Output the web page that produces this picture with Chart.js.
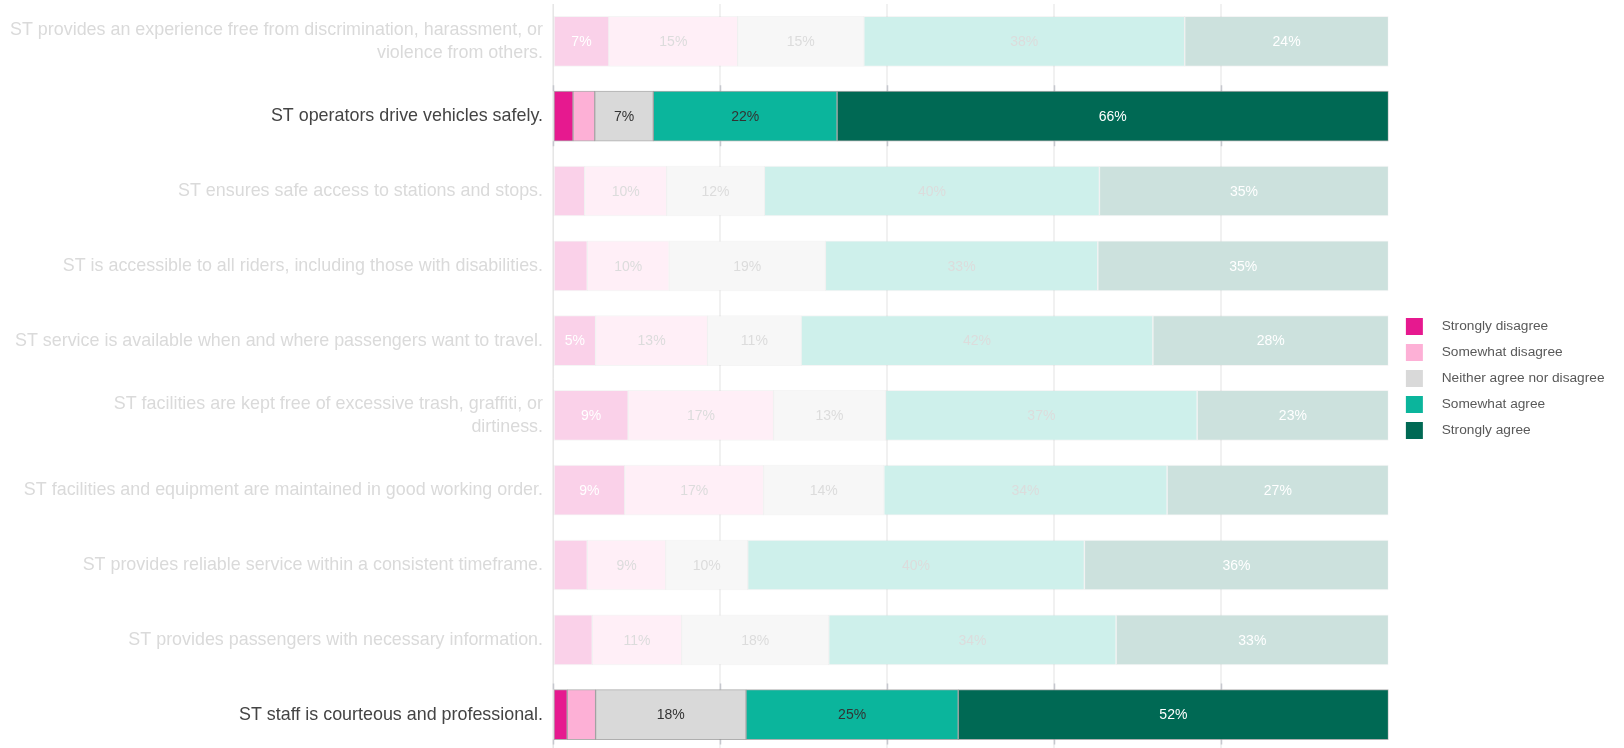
<!DOCTYPE html>
<html>
<head>
<meta charset="utf-8">
<script src="https://cdn.jsdelivr.net/npm/chart.js@4.4.1/dist/chart.umd.min.js"></script>
<style>
  html,body{margin:0;padding:0;background:#fff;overflow:hidden}
</style>
</head>
<body>
<canvas id="grafico" width="1624" height="752"></canvas>
<script>
const statements = [
  ['ST provides an experience free from discrimination, harassment, or', 'violence from others.'],
  'ST operators drive vehicles safely.',
  'ST ensures safe access to stations and stops.',
  'ST is accessible to all riders, including those with disabilities.',
  'ST service is available when and where passengers want to travel.',
  ['ST facilities are kept free of excessive trash, graffiti, or', 'dirtiness.'],
  'ST facilities and equipment are maintained in good working order.',
  'ST provides reliable service within a consistent timeframe.',
  'ST provides passengers with necessary information.',
  'ST staff is courteous and professional.'
];
const answers = ['Strongly disagree', 'Somewhat disagree', 'Neither agree nor disagree', 'Somewhat agree', 'Strongly agree'];

// share of responses (%) per statement
const stronglyDisagree = [6.7, 2.4, 3.8, 4.1, 5.1, 9.0, 8.6, 4.1, 4.7, 1.7];
const somewhatDisagree = [15.4, 2.6, 9.8, 9.8, 13.4, 17.4, 16.6, 9.4, 10.7, 3.4];
const neither          = [15.1, 7.0, 11.7, 18.7, 11.2, 13.4, 14.4, 9.8, 17.6, 18.0];
const somewhatAgree    = [38.4, 22.0, 40.1, 32.6, 42.1, 37.3, 33.9, 40.3, 34.4, 25.4];
const stronglyAgree    = [24.4, 66.0, 34.6, 34.8, 28.2, 22.9, 26.5, 36.4, 32.6, 51.5];
const xTicks = [0, 20, 40, 60, 80, 100];

// rows shown at full strength, the rest are greyed out
const highlighted = [1, 9];

const colors = ['#e6198f', '#fdb0d6', '#d9d9d9', '#0bb59c', '#006954'];
const textColors = ['#ffffff', '#333333', '#333333', '#333333', '#ffffff'];
const textColorsFaded = ['#ffffff', '#dcdcdc', '#dcdcdc', '#dcdcdc', '#ffffff'];
const font = '"Liberation Sans", Arial, sans-serif';

const isOn = i => highlighted.includes(i);
// washed-out colour, mixed with white so it stays opaque
function fade(hex, a){
  const n = parseInt(hex.slice(1), 16);
  const mix = v => Math.round(255 - a * (255 - v));
  return `rgb(${mix(n >> 16)},${mix((n >> 8) & 255)},${mix(n & 255)})`;
}

// legend squares: 17px swatch with some room before the text
const swatches = colors.map(c => {
  const cv = document.createElement('canvas');
  cv.width = 34; cv.height = 17;
  const g = cv.getContext('2d');
  g.fillStyle = c;
  g.fillRect(5, 0, 17, 17);
  return cv;
});

const series = [stronglyDisagree, somewhatDisagree, neither, somewhatAgree, stronglyAgree];
const datasets = series.map((d, k) => ({
  label: answers[k],
  data: d,
  backgroundColor: c => isOn(c.dataIndex) ? colors[k] : fade(colors[k], 0.2),
  borderColor: c => isOn(c.dataIndex) ? 'rgba(110,110,110,0.55)' : 'rgba(110,110,110,0.07)',
  borderWidth: 1,
  borderSkipped: false,
  barThickness: 50
}));

// darker gridline stubs just above/below the highlighted bars
const gridStubs = {
  id: 'gridStubs',
  beforeDatasetsDraw(chart){
    const {ctx, scales: {x}} = chart;
    const meta = chart.getDatasetMeta(0);
    ctx.save();
    ctx.strokeStyle = '#c6c8ce';
    ctx.lineWidth = 1.5;
    highlighted.forEach(i => {
      const b = meta.data[i];
      const top = b.y - b.height / 2, bot = b.y + b.height / 2;
      xTicks.slice(0, -1).forEach(t => {
        const px = Math.round(x.getPixelForValue(t)) + 0.5;
        ctx.beginPath();
        ctx.moveTo(px, top - 6); ctx.lineTo(px, top);
        ctx.moveTo(px, bot); ctx.lineTo(px, bot + 5);
        ctx.stroke();
      });
    });
    ctx.restore();
  }
};

// percentage labels inside the segments
const valueLabels = {
  id: 'valueLabels',
  afterDatasetsDraw(chart){
    const {ctx} = chart;
    ctx.save();
    ctx.font = '14px ' + font;
    ctx.textAlign = 'center';
    ctx.textBaseline = 'middle';
    chart.data.datasets.forEach((ds, k) => {
      chart.getDatasetMeta(k).data.forEach((bar, i) => {
        const v = ds.data[i];
        if (v < 5) return;
        const p = bar.getCenterPoint();
        ctx.fillStyle = isOn(i) ? textColors[k] : textColorsFaded[k];
        ctx.fillText(Math.round(v) + '%', p.x, p.y + 1);
      });
    });
    ctx.restore();
  }
};

new Chart(document.getElementById('grafico').getContext('2d'), {
  type: 'bar',
  data: { labels: statements, datasets },
  options: {
    indexAxis: 'y',
    responsive: false,
    animation: false,
    layout: { padding: { top: 4, right: 9.5, left: 0, bottom: 0 } },
    plugins: {
      tooltip: { enabled: false },
      legend: {
        position: 'right',
        labels: {
          usePointStyle: true,
          pointStyleWidth: 34,
          padding: 12.3,
          color: '#595959',
          font: { family: font, size: 13.7 },
          generateLabels: chart => Chart.defaults.plugins.legend.labels.generateLabels(chart)
            .map((it, i) => Object.assign(it, { pointStyle: swatches[i] }))
        }
      }
    },
    scales: {
      x: {
        stacked: true,
        min: xTicks[0],
        max: xTicks[xTicks.length - 1],
        afterBuildTicks: s => { s.ticks = xTicks.map(v => ({ value: v })); },
        ticks: { display: false },
        grid: {
          color: c => c.tick && c.tick.value === 100 ? 'rgba(0,0,0,0)' : '#f1f1f1',
          lineWidth: 2,
          drawTicks: false
        },
        border: { display: false },
        afterFit: s => { s.height = 0; s.paddingLeft = 0; s.paddingRight = 0; }
      },
      y: {
        stacked: true,
        grid: { display: false, drawTicks: false },
        border: { color: '#e6e6e6' },
        ticks: {
          padding: 10,
          color: c => isOn(c.index) ? '#444444' : '#dadada',
          font: { family: font, size: 17.9, lineHeight: 1.25 }
        },
        afterFit: s => { s.width = 553; s.paddingTop = 0; s.paddingBottom = 0; }
      }
    }
  },
  plugins: [gridStubs, valueLabels]
});
</script>
</body>
</html>
